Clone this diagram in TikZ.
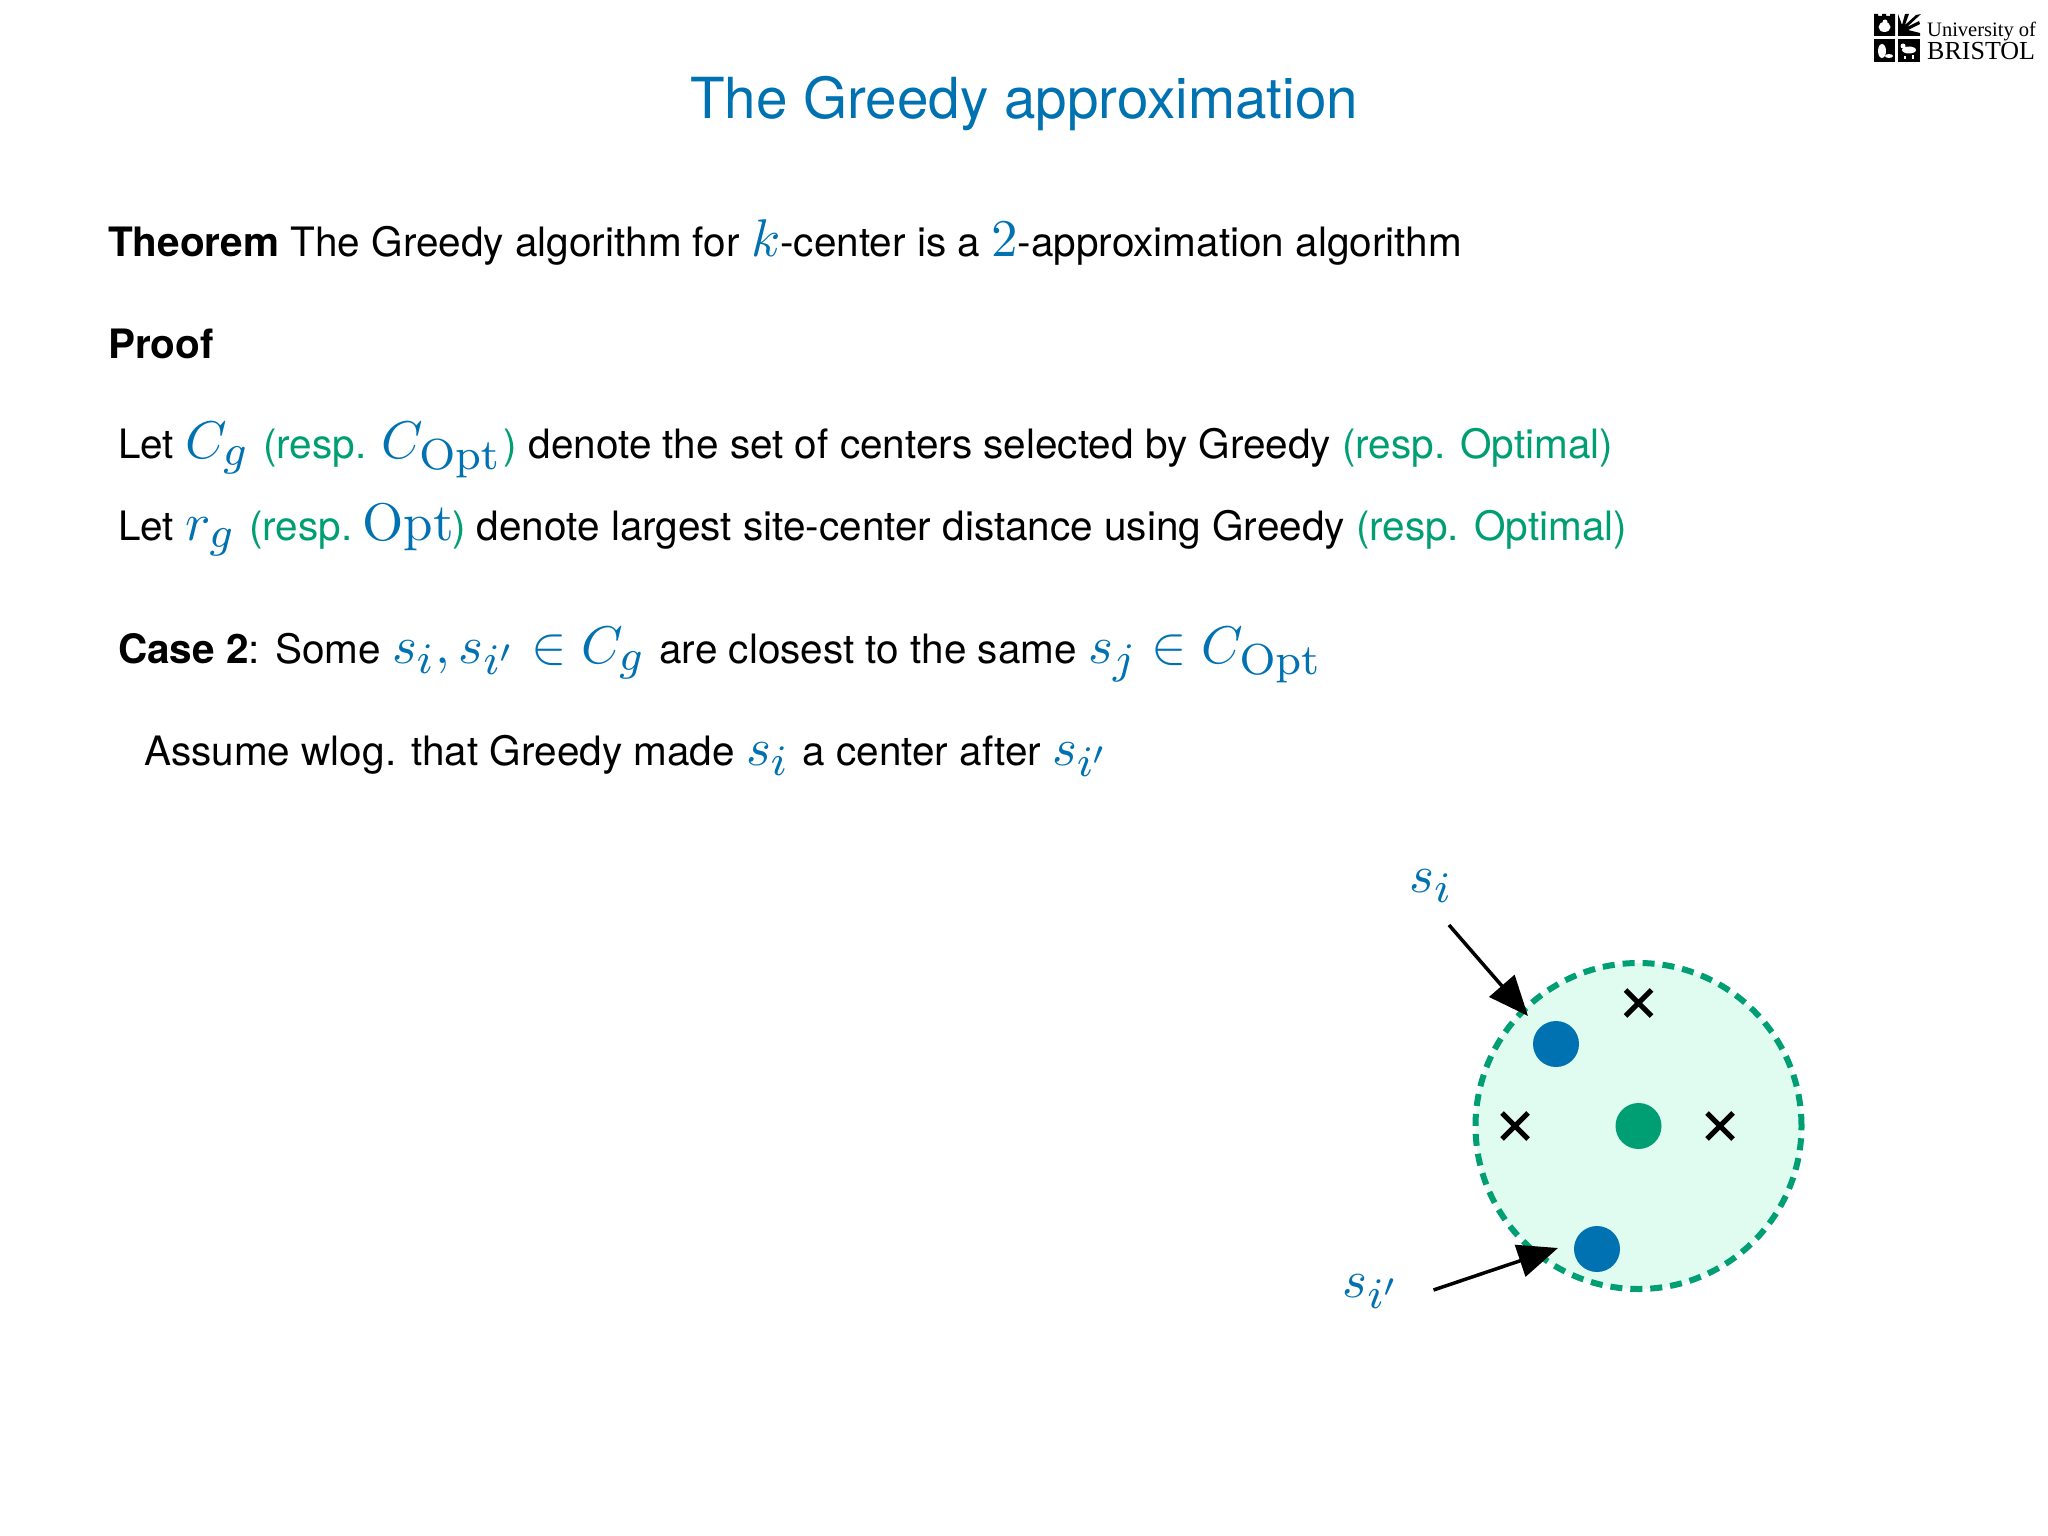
\documentclass[tikz,border=0pt]{standalone}
\usepackage{fix-cm}
\usepackage{graphicx}
\usepackage[no-math]{fontspec}
\setmainfont{TeX Gyre Heros}
\newfontfamily\logofont{Liberation Serif}
\usetikzlibrary{arrows.meta,shapes.misc}
\DeclareMathSizes{10}{10}{8.2}{6}
\definecolor{hblue}{RGB}{0,114,178}
\definecolor{hgreen}{RGB}{0,158,115}
\definecolor{hfill}{RGB}{224,251,239}
\newcommand{\mth}[1]{{\color{hblue}\scalebox{5.3}{\fontsize{10}{12}\selectfont$#1$}}}
\newcommand{\grn}[1]{{\color{hgreen}#1}}
\tikzset{
  line/.style={anchor=base west,inner sep=0pt,font=\fontsize{40.5}{45}\selectfont},
  heading/.style={anchor=base,inner sep=0pt,text=hblue,font=\fontsize{56.6}{60}\selectfont},
  bluedot/.style={circle,fill=hblue,minimum size=46pt,inner sep=0pt},
  greendot/.style={circle,fill=hgreen,minimum size=46pt,inner sep=0pt},
  crossmark/.style={cross out,draw=black,line width=5pt,minimum size=21pt,inner sep=0pt},
  region/.style={circle,fill=hfill,draw=hgreen,line width=6pt,dash pattern=on 12pt off 8pt,minimum size=326pt,inner sep=0pt},
  pointer/.style={line width=3.5pt,-{Triangle[length=40pt,width=33pt]}},
  logotext/.style={anchor=base west,inner sep=0pt},
}
\begin{document}
\begin{tikzpicture}[x=1pt,y=-1pt]
\useasboundingbox (0,0) rectangle (2048,1536);
\fill[white] (0,0) rectangle (2048,1536);
\node[heading] (title) at (1024,119) {The Greedy approximation};
\node[line] (thm) at (108,256) {\textbf{Theorem} The Greedy algorithm for \mth{k}-center is a \mth{2}-approximation algorithm};
\node[line] (prf) at (108,358) {\textbf{Proof}};
\node[line] (l1) at (118,458) {Let \mth{C_g}\hspace{2.6pt} \grn{(resp.} \mth{C_{\mathrm{Opt}}}\hspace{2.5pt}\grn{)} denote the set of centers selected by Greedy \grn{(resp. Optimal)}};
\node[line] (l2) at (118,540) {Let \mth{r_g}\hspace{2.6pt} \grn{(resp.}\hspace{-5pt} \mth{\mathrm{Opt}}\hspace{-1.5pt}\grn{)} denote largest site-center distance using Greedy \grn{(resp. Optimal)}};
\node[line] (l3) at (118,663) {\textbf{Case 2}: Some \mth{s_i, s_{i'}\in C_g}\hspace{3pt} are closest to the same \mth{s_j\in C_{\mathrm{Opt}}}};
\node[line] (l4) at (144,765) {Assume wlog. that Greedy made \mth{s_i}\hspace{2pt} a center after \mth{s_{i'}}};
% diagram
\node[region] (reg) at (1638.5,1126) {};
\node[bluedot] (b1) at (1556,1044) {};
\node[bluedot] (b2) at (1597,1249) {};
\node[greendot] (g) at (1638.5,1126) {};
\node[crossmark] (x1) at (1638.5,1003) {};
\node[crossmark] (x2) at (1515,1126) {};
\node[crossmark] (x3) at (1720,1126) {};
\node[inner sep=0pt,anchor=base] (si) at (1431,892) {\mth{s_i}};
\node[inner sep=0pt,anchor=base] (sip) at (1371.5,1297) {\mth{s_{i'}}};
\coordinate (a1s) at (1449,925);
\coordinate (a1t) at (1528,1016);
\coordinate (a2s) at (1433.5,1290);
\coordinate (a2t) at (1558,1248);
\draw[pointer] (a1s) -- (a1t);
\draw[pointer] (a2s) -- (a2t);
% logo
\fill[black] (1874,16) -- (1874,14) -- (1878,14) -- (1878,16) -- (1882,16) -- (1882,14) -- (1886,14) -- (1886,16) -- (1890,16) -- (1890,14) -- (1895,14) -- (1895,36) -- (1874,36) -- cycle;
\fill[black] (1874,39) rectangle (1895,62);
\fill[black] (1898,39) rectangle (1920,62);
\fill[black] (1898,14) -- (1898,36) -- (1920,36) -- (1920,33) -- (1908,30) -- (1920,24) -- (1919,21) -- (1907,27) -- (1921,14) -- (1916,15) -- (1905,25) -- (1909,14) -- (1905,14) -- (1902,25) -- cycle;
\fill[white] (1884.5,27) ellipse (6pt and 5pt);
\fill[white] (1885,22) circle (2.5pt);
\fill[white] (1882,51) ellipse (4pt and 7pt);
\fill[white] (1889,56) ellipse (4pt and 2pt);
\fill[white] (1909,50) ellipse (7pt and 3.5pt);
\fill[white] (1903,46) circle (2.5pt);
\fill[white] (1904,56) rectangle (1906,59);
\fill[white] (1912,55) rectangle (1914,59);
\node[logotext,font=\logofont\fontsize{20.5}{22}\selectfont] (logo1) at (1927,37) {University of};
\node[logotext,font=\logofont\fontsize{26}{28}\selectfont] (logo2) at (1927,60) {BRISTOL};
\end{tikzpicture}
\end{document}
